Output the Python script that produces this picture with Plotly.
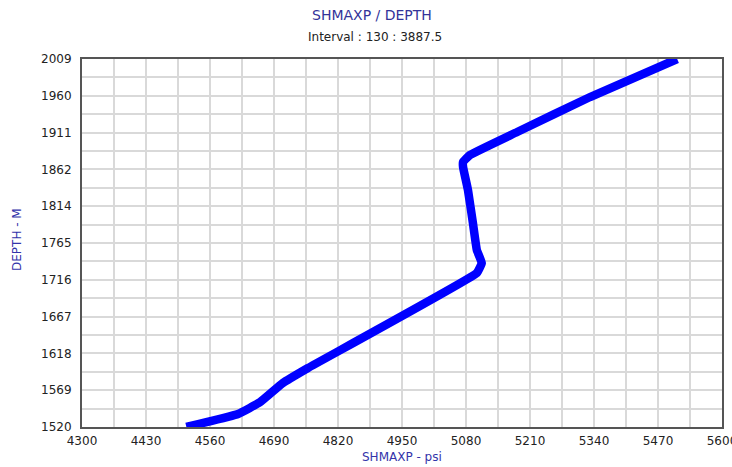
import plotly.graph_objects as go

# Data
shmaxp_psi = [4512, 4617, 4662, 4708, 4759, 5102, 5112, 5102, 5094, 5084, 5074, 5074, 5088, 5184, 5332, 5509]
depth_m = [1520, 1537.3, 1553.2, 1578.5, 1598.4, 1724.6, 1737.9, 1755.2, 1791.1, 1834.9, 1865.5, 1872.1, 1881.4, 1912.0, 1958.5, 2009]

x_tick_vals = [4300, 4430, 4560, 4690, 4820, 4950, 5080, 5210, 5340, 5470, 5600]
x_tick_text = ["4300", "4430", "4560", "4690", "4820", "4950", "5080", "5210", "5340", "5470", "5600"]
y_tick_vals = [1520, 1568.9, 1617.8, 1666.7, 1715.6, 1764.5, 1813.4, 1862.3, 1911.2, 1960.1, 2009]
y_tick_text = ["1520", "1569", "1618", "1667", "1716", "1765", "1814", "1862", "1911", "1960", "2009"]

x_minor = [(a + b) / 2 for a, b in zip(x_tick_vals[:-1], x_tick_vals[1:])]
y_minor = [(a + b) / 2 for a, b in zip(y_tick_vals[:-1], y_tick_vals[1:])]

fig = go.Figure()
fig.add_trace(go.Scatter(
    x=shmaxp_psi, y=depth_m, mode="lines",
    line=dict(color="#0000FF", width=8.5, shape="spline", smoothing=0.3),
    hoverinfo="x+y", showlegend=False,
))

grid_col = "#d9d9d9"
tick_font = dict(family="DejaVu Sans", size=12, color="#222222")
axis_title_font = dict(family="DejaVu Sans", size=12, color="#3333aa")

fig.update_layout(
    width=732, height=467,
    margin=dict(l=82, r=10, t=59, b=40),
    paper_bgcolor="white", plot_bgcolor="white",
    xaxis=dict(
        range=[4300, 5600], tickmode="array", tickvals=x_tick_vals, ticktext=x_tick_text,
        showgrid=True, gridcolor=grid_col, gridwidth=2,
        minor=dict(tickmode="array", tickvals=x_minor, showgrid=True, gridcolor=grid_col, gridwidth=2),
        showline=True, linecolor="#555555", linewidth=2, mirror=True,
        ticks="", tickfont=tick_font, automargin=False, zeroline=False,
        ticklabelstandoff=2, ticklabeloverflow="allow",
    ),
    yaxis=dict(
        range=[1520, 2009], tickmode="array", tickvals=y_tick_vals, ticktext=y_tick_text,
        showgrid=True, gridcolor=grid_col, gridwidth=2,
        minor=dict(tickmode="array", tickvals=y_minor, showgrid=True, gridcolor=grid_col, gridwidth=2),
        showline=True, linecolor="#555555", linewidth=2, mirror=True,
        ticks="", tickfont=tick_font, automargin=False, zeroline=False,
        ticklabelstandoff=6, ticklabeloverflow="allow",
    ),
)

W, H = 732, 467
pw, ph = W - 82 - 10, H - 59 - 40
def px(xp):
    return (xp - 82) / pw
def py(yp):
    return (H - 40 - yp) / ph

fig.add_annotation(text="SHMAXP / DEPTH", x=px(372), y=py(15), xref="paper", yref="paper",
                   showarrow=False, font=dict(family="DejaVu Sans", size=14, color="#333399"),
                   xanchor="center", yanchor="middle")
fig.add_annotation(text="Interval : 130 : 3887.5", x=px(375), y=py(37), xref="paper", yref="paper",
                   showarrow=False, font=dict(family="DejaVu Sans", size=12, color="#222222"),
                   xanchor="center", yanchor="middle")
fig.add_annotation(text="SHMAXP - psi", x=px(402), y=py(457), xref="paper", yref="paper",
                   showarrow=False, font=axis_title_font, xanchor="center", yanchor="middle")
fig.add_annotation(text="DEPTH - M", x=px(17), y=py(240), xref="paper", yref="paper",
                   showarrow=False, font=axis_title_font, textangle=-90,
                   xanchor="center", yanchor="middle")

fig.write_html("out.html")
